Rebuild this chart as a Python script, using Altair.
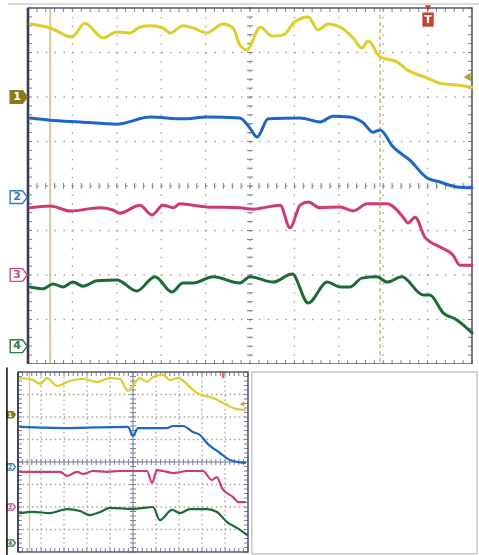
import altair as alt
import numpy as np
import pandas as pd

# ---------------- values (screen divisions: time 0..10, level -4..4) ----------------
# upper screen
top_yellow_t = [0.05, 0.50, 0.99, 1.28, 1.69, 2.00, 2.30, 2.52, 2.75, 3.04, 3.20, 3.49, 3.72, 4.03, 4.39, 4.62,
                4.77, 4.93, 5.23, 5.50, 5.74, 6.01, 6.31, 6.53, 6.76, 7.03, 7.32, 7.52, 7.66, 7.93, 8.31, 8.54,
                8.99, 9.28, 9.66, 10.0]
top_yellow_v = [3.64, 3.55, 3.35, 3.66, 3.33, 3.46, 3.44, 3.57, 3.60, 3.55, 3.44, 3.60, 3.55, 3.44, 3.64, 3.55,
                3.17, 3.06, 3.57, 3.37, 3.39, 3.69, 3.80, 3.51, 3.64, 3.57, 3.33, 3.10, 3.26, 2.90, 2.79, 2.61,
                2.43, 2.31, 2.27, 2.22]
top_blue_t = [0.05, 0.50, 1.17, 2.00, 2.75, 3.49, 4.03, 4.77, 5.00, 5.16, 5.41, 6.13, 6.58, 6.87, 7.25, 7.55,
              7.77, 7.93, 8.22, 8.60, 8.99, 9.28, 9.66, 10.0]
top_blue_v = [1.53, 1.48, 1.44, 1.39, 1.55, 1.51, 1.55, 1.53, 1.30, 1.10, 1.51, 1.53, 1.44, 1.57, 1.55, 1.42,
              1.21, 1.26, 0.88, 0.58, 0.18, 0.09, -0.02, -0.04]
top_pink_t = [0.05, 0.50, 0.95, 1.62, 1.91, 2.07, 2.52, 2.79, 3.04, 3.27, 3.42, 4.03, 4.77, 5.07, 5.68, 5.90,
              6.13, 6.31, 6.58, 7.03, 7.32, 7.64, 8.09, 8.45, 8.56, 8.72, 8.94, 9.28, 9.57, 9.73, 10.0]
top_pink_v = [-0.49, -0.45, -0.56, -0.49, -0.54, -0.61, -0.43, -0.65, -0.43, -0.49, -0.40, -0.47, -0.49, -0.52,
              -0.43, -0.94, -0.43, -0.36, -0.49, -0.47, -0.56, -0.40, -0.40, -0.70, -0.83, -0.70, -1.15, -1.37,
              -1.55, -1.78, -1.78]
top_green_t = [0.05, 0.34, 0.56, 0.79, 1.01, 1.24, 1.55, 2.00, 2.45, 2.86, 3.24, 3.49, 3.72, 4.17, 4.77, 5.00,
               5.52, 5.95, 6.31, 6.74, 7.03, 7.25, 7.52, 7.86, 8.09, 8.42, 8.90, 9.05, 9.35, 9.66, 10.0]
top_green_v = [-2.27, -2.31, -2.20, -2.27, -2.16, -2.25, -2.13, -2.11, -2.36, -2.04, -2.38, -2.18, -2.18, -2.04,
               -2.18, -2.04, -2.16, -1.98, -2.63, -2.16, -2.27, -2.27, -2.07, -2.04, -2.16, -2.04, -2.45, -2.45,
               -2.85, -3.01, -3.30]

# lower screen
bot_yellow_t = [0.09, 0.65, 0.96, 1.26, 1.70, 2.26, 2.83, 3.43, 4.00, 4.43, 4.78, 5.00, 5.30, 5.61, 5.87, 6.30,
                6.61, 6.96, 7.48, 7.78, 8.48, 9.09, 9.35, 9.87]
bot_yellow_v = [3.73, 3.64, 3.47, 3.73, 3.38, 3.60, 3.69, 3.56, 3.73, 3.69, 3.16, 3.42, 3.73, 3.56, 3.78, 3.87,
                3.64, 3.73, 3.33, 3.07, 2.84, 2.53, 2.40, 2.31]
bot_blue_t = [0.09, 2.13, 4.78, 5.00, 5.22, 6.48, 6.74, 7.17, 7.61, 7.91, 8.22, 8.78, 9.22, 9.87]
bot_blue_v = [1.56, 1.51, 1.56, 1.16, 1.51, 1.51, 1.60, 1.60, 1.33, 1.20, 0.84, 0.40, 0.09, -0.04]
bot_pink_t = [0.09, 1.83, 2.13, 2.57, 2.83, 3.26, 3.87, 4.43, 5.61, 5.83, 6.04, 6.30, 6.74, 7.35, 8.04, 8.43,
              8.65, 8.87, 9.35, 9.57, 9.87]
bot_pink_v = [-0.44, -0.44, -0.62, -0.44, -0.53, -0.40, -0.44, -0.40, -0.40, -0.93, -0.36, -0.40, -0.49, -0.40,
              -0.40, -0.80, -0.67, -1.16, -1.56, -1.78, -1.78]
bot_green_t = [0.09, 0.65, 1.39, 2.13, 2.70, 3.13, 3.57, 4.00, 5.00, 5.43, 5.87, 6.17, 6.70, 7.04, 7.48, 8.22,
               8.65, 9.09, 9.52, 9.96]
bot_green_v = [-2.27, -2.22, -2.27, -2.09, -2.18, -2.36, -2.22, -2.04, -2.09, -2.04, -2.00, -2.58, -2.13, -2.27,
               -2.09, -2.09, -2.22, -2.67, -2.93, -3.24]

channels = ["1", "2", "3", "4"]
trace_colors = ["#dccf2c", "#1f66c4", "#cc3a78", "#1c6b36"]
marker_colors = ["#8a7a1e", "#3a7ab8", "#c0508a", "#2f7a4a"]
top_marker_level = [2.0, -0.25, -2.0, -3.6]
bot_marker_level = [2.1, -0.22, -2.0, -3.6]
trigger_time = [9.01, 8.91]
trigger_level = [3.74, 3.82]
ch1_arrow_time = [9.89, 9.74]
ch1_arrow_level = [2.45, 2.58]
ref_line_time = 0.5
cursor_time = 7.93


def trace_frame(ts, vs):
    rows = []
    for ch, t, v in zip(channels, ts, vs):
        for i, (a, b) in enumerate(zip(t, v)):
            rows.append({"ch": ch, "i": i, "t": a, "v": b})
    return pd.DataFrame(rows)


def screen(ts, vs, xdom, ydom, W, H, ppx, ppy, marker_x, marker_level, marker_size, font_size,
           trig_t, trig_v, trig_size, arrow_t, arrow_v, arrow_size, line_w, big):
    xs = alt.Scale(domain=xdom, nice=False, zero=False)
    ys = alt.Scale(domain=ydom, nice=False, zero=False)
    X = lambda f: alt.X(f, type="quantitative", scale=xs, axis=None)
    Y = lambda f: alt.Y(f, type="quantitative", scale=ys, axis=None)

    # dotted graticule
    grid = pd.DataFrame(
        [{"x": k, "x2": k, "y": 4, "y2": -4} for k in range(1, 10) if k != 5]
        + [{"x": 0, "x2": 10, "y": k, "y2": k} for k in range(-3, 4) if k != 0])
    dash = [1.4, 0.2 * ppx - 1.4]
    grid_l = alt.Chart(grid).mark_rule(color="#a89c90", strokeWidth=1.3, strokeDash=dash, clip=True).encode(
        x=X("x"), x2="x2", y=Y("y"), y2="y2")

    center = pd.DataFrame([{"x": 5, "x2": 5, "y": 4, "y2": -4}, {"x": 0, "x2": 10, "y": 0, "y2": 0}])
    if big:
        center_l = alt.Chart(center).mark_rule(color="#7f8aa0", strokeWidth=1.2, strokeDash=[2, 0.2 * ppx - 2],
                                               clip=True).encode(x=X("x"), x2="x2", y=Y("y"), y2="y2")
    else:
        center_l = alt.Chart(center).mark_rule(color="#6a7590", strokeWidth=1.0, clip=True).encode(
            x=X("x"), x2="x2", y=Y("y"), y2="y2")

    # tick marks on frame and centre cross
    L = 4.0 / ppx
    Ly = 4.0 / ppy
    C = 3.0 / ppx
    Cy = 3.0 / ppy
    tx = np.round(np.arange(0, 10.001, 0.2), 2)
    ty = np.round(np.arange(-4, 4.001, 0.2), 2)
    ticks = []
    for a in tx:
        ticks.append({"x": a, "x2": a, "y": 4, "y2": 4 - Ly})
        ticks.append({"x": a, "x2": a, "y": -4, "y2": -4 + Ly})
        ticks.append({"x": a, "x2": a, "y": Cy, "y2": -Cy})
    for b in ty:
        ticks.append({"x": 0, "x2": L, "y": b, "y2": b})
        ticks.append({"x": 10, "x2": 10 - L, "y": b, "y2": b})
        ticks.append({"x": 5 - C, "x2": 5 + C, "y": b, "y2": b})
    tick_l = alt.Chart(pd.DataFrame(ticks)).mark_rule(color="#7a8298", strokeWidth=1, clip=True).encode(
        x=X("x"), x2="x2", y=Y("y"), y2="y2")

    # reference line and cursor
    refs = pd.DataFrame([{"x": ref_line_time, "y": 4, "y2": -4}])
    ref_l = alt.Chart(refs).mark_rule(color="#d6c99c", strokeWidth=2 if big else 1.5, clip=True).encode(
        x=X("x"), y=Y("y"), y2="y2")

    layers = [grid_l, center_l, tick_l, ref_l]
    if big:
        cur = pd.DataFrame([{"x": cursor_time, "y": 4, "y2": -4}])
        layers.append(alt.Chart(cur).mark_rule(color="#b9a468", strokeWidth=1.2, strokeDash=[4, 3],
                                               clip=True).encode(x=X("x"), y=Y("y"), y2="y2"))

    # frame
    frame = pd.DataFrame([{"x": 0, "x2": 10, "y": -4, "y2": 4}])
    layers.append(alt.Chart(frame).mark_rect(fill=None, stroke="#55586a", strokeWidth=1.6, clip=True).encode(
        x=X("x"), x2="x2", y=Y("y"), y2="y2"))
    left = pd.DataFrame([{"x": 0, "y": -4, "y2": 4}])
    layers.append(alt.Chart(left).mark_rule(color="#3b3d55", strokeWidth=2.6 if big else 1.6, clip=True).encode(
        x=X("x"), y=Y("y"), y2="y2"))

    # traces
    df = trace_frame(ts, vs)
    layers.append(alt.Chart(df).mark_line(strokeWidth=line_w, strokeJoin="round", strokeCap="round",
                                          interpolate="monotone", clip=True).encode(
        x=X("t"), y=Y("v"),
        color=alt.Color("ch:N", scale=alt.Scale(domain=channels, range=trace_colors), legend=None),
        order=alt.Order("i:Q")))

    # channel ground markers
    mk = pd.DataFrame({"ch": channels, "x": [marker_x] * 4, "y": marker_level,
                       "fill": [marker_colors[0], "#ffffff", "#ffffff", "#ffffff"],
                       "txt": ["#ffffff"] + marker_colors[1:]})
    shape = "M -1 -0.75 L 0.45 -0.75 L 1 0 L 0.45 0.75 L -1 0.75 Z"
    layers.append(alt.Chart(mk).mark_point(shape=shape, size=marker_size, filled=True, strokeWidth=1.4,
                                           opacity=1, clip=True).encode(
        x=X("x"), y=Y("y"),
        fill=alt.Fill("fill:N", scale=None),
        stroke=alt.Stroke("ch:N", scale=alt.Scale(domain=channels, range=marker_colors), legend=None)))
    layers.append(alt.Chart(mk).mark_text(font="DejaVu Sans", fontWeight="bold", fontSize=font_size,
                                          dx=-1.5 if big else -1, clip=True).encode(
        x=X("x"), y=Y("y"), text="ch:N", color=alt.Color("txt:N", scale=None)))

    # trigger marker
    tr = pd.DataFrame({"x": [trig_t], "y": [trig_v], "lab": ["T"]})
    if big:
        layers.append(alt.Chart(tr).mark_point(shape="M -0.8 -1 L 0.8 -1 L 0.8 1 L -0.8 1 Z", size=trig_size,
                                               filled=True, color="#c8402a", opacity=1, clip=True).encode(
            x=X("x"), y=Y("y")))
        tip = pd.DataFrame({"x": [trig_t], "y": [4.0]})
        layers.append(alt.Chart(tip).mark_point(shape="triangle-down", size=40, filled=True, color="#c8402a",
                                                opacity=1, clip=True).encode(x=X("x"), y=Y("y")))
        layers.append(alt.Chart(tr).mark_text(font="DejaVu Sans", fontWeight="bold", fontSize=11,
                                              color="#ffffff", clip=True).encode(x=X("x"), y=Y("y"), text="lab"))
    else:
        layers.append(alt.Chart(tr).mark_text(font="DejaVu Sans", fontWeight="bold", fontSize=8,
                                              color="#d0452e", clip=True).encode(x=X("x"), y=Y("y"), text="lab"))

    # channel 1 level arrow
    ar = pd.DataFrame({"x": [arrow_t], "y": [arrow_v]})
    layers.append(alt.Chart(ar).mark_point(shape="triangle-left", size=arrow_size, filled=True,
                                           color="#b9a232", opacity=1, clip=True).encode(x=X("x"), y=Y("y")))
    return layers, X, Y


# ---------- upper screen ----------
top_layers, TX, TY = screen(
    [top_yellow_t, top_blue_t, top_pink_t, top_green_t],
    [top_yellow_v, top_blue_v, top_pink_v, top_green_v],
    [-28 / 44.4, 10 + 7 / 44.4], [-4, 4 + 8 / 44.5], 479, 364, 44.4, 44.5,
    -0.21, top_marker_level, 290, 11, trigger_time[0], trigger_level[0], 200,
    ch1_arrow_time[0], ch1_arrow_level[0], 70, 3.0, True)
page_edge = pd.DataFrame([{"x": -0.45, "x2": 10.16, "y": 4 + 4 / 44.5}])
top_layers.append(alt.Chart(page_edge).mark_rule(color="#b8b8b8", strokeWidth=1.2, clip=True).encode(
    x=TX("x"), x2="x2", y=TY("y")))
top = alt.layer(*top_layers).properties(width=479, height=364)

# ---------- lower screen ----------
bot_layers, BX, BY = screen(
    [bot_yellow_t, bot_blue_t, bot_pink_t, bot_green_t],
    [bot_yellow_v, bot_blue_v, bot_pink_v, bot_green_v],
    [-18 / 23, 10 + 231 / 23], [-4 - 3 / 22.5, 4 + 8 / 22.5], 479, 191, 23, 22.5,
    -0.3, bot_marker_level, 70, 6, trigger_time[1], trigger_level[1], 40,
    ch1_arrow_time[1], ch1_arrow_level[1], 25, 2.2, False)
side = pd.DataFrame([{"x": -0.48, "y": 4.2, "y2": -4.13}])
bot_layers.append(alt.Chart(side).mark_rule(color="#1a1a1a", strokeWidth=1.6, clip=True).encode(
    x=BX("x"), y=BY("y"), y2="y2"))
blank = pd.DataFrame([{"x": 10.17, "x2": 19.96, "y": 4.0, "y2": -4.08}])
bot_layers.append(alt.Chart(blank).mark_rect(fill=None, stroke="#c8c8c8", strokeWidth=1.5, clip=True).encode(
    x=BX("x"), x2="x2", y=BY("y"), y2="y2"))
bottom = alt.layer(*bot_layers).properties(width=479, height=191)

chart = alt.vconcat(top, bottom, spacing=0, bounds="flush").properties(
    padding=0, background="#ffffff"
).configure_view(stroke=None)

chart.save("out.html", embed_options={"renderer": "svg", "actions": False})
